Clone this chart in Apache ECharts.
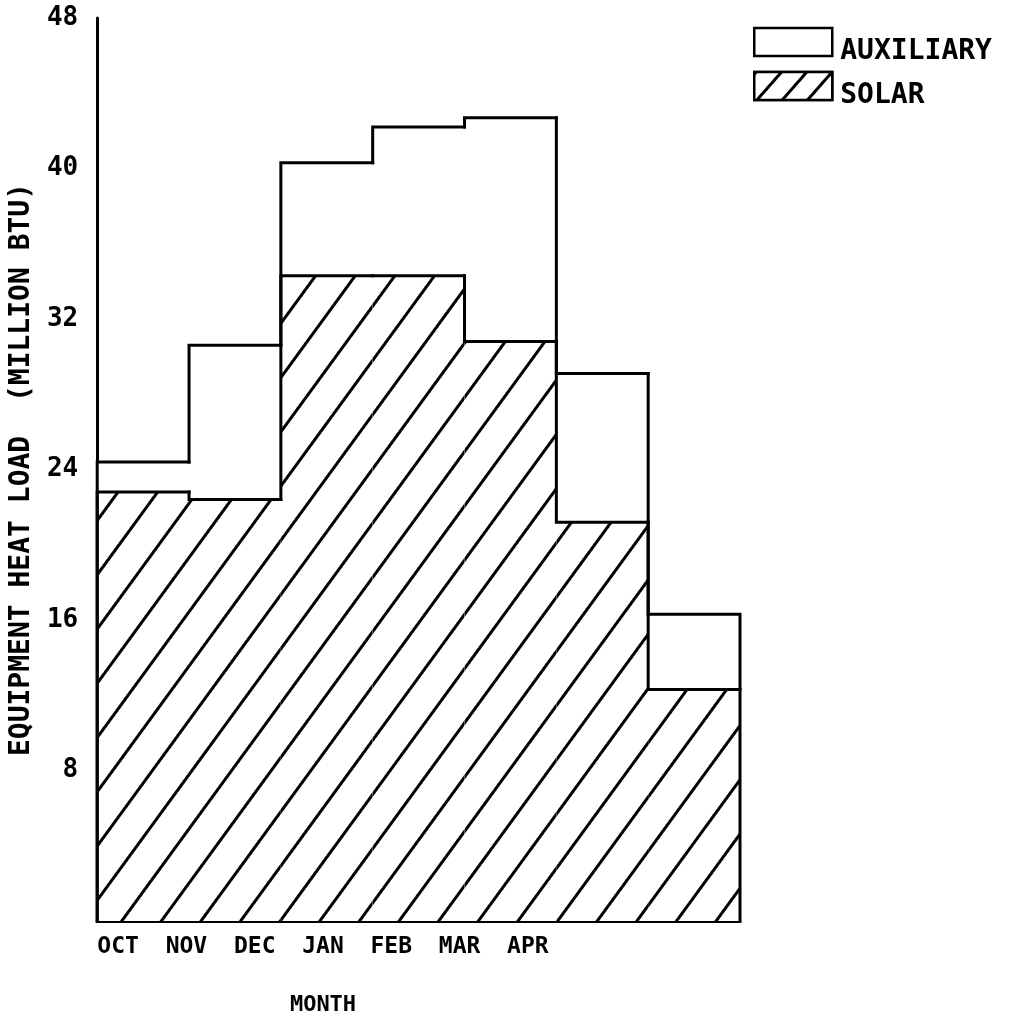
<!DOCTYPE html>
<html>
<head>
<meta charset="utf-8">
<script src="https://cdn.jsdelivr.net/npm/echarts@6/dist/echarts.min.js"></script>
<style>
  html, body { margin: 0; padding: 0; background: #fff; }
  #chart { width: 1010px; height: 1021px; }
</style>
</head>
<body>
<div id="chart"></div>
<script>
// Monthly equipment heat load, split into solar and auxiliary contributions (million BTU)
const months = ['OCT', 'NOV', 'DEC', 'JAN', 'FEB', 'MAR', 'APR'];
const solar = [22.8, 22.4, 34.3, 34.3, 30.8, 21.2, 12.3];
const auxiliary = [1.6, 8.2, 6.0, 7.9, 11.9, 7.9, 4.0];
const yTicks = [0, 8, 16, 24, 32, 40, 48];

// stacked height of each month (solar + auxiliary)
const total = solar.map((s, i) => s + auxiliary[i]);

const FONT = 'DejaVu Sans Mono';

// diagonal line hatching for the solar portion
const hatch = {
  symbol: 'rect',
  symbolSize: 1,
  color: '#000',
  backgroundColor: '#fff',
  dashArrayX: [1, 0],
  dashArrayY: [3, 29],
  rotation: -0.94
};

// tighter hatching for the small legend swatch
const legendHatch = {
  symbol: 'rect',
  symbolSize: 1,
  color: '#000',
  backgroundColor: '#fff',
  dashArrayX: [1, 0],
  dashArrayY: [3, 16],
  rotation: -0.85
};

// draws the stepped envelopes of the solar and total heights
function outline(params, api) {
  const i = params.dataIndex;
  const half = api.size([1, 0])[0] / 2;
  const xc = api.coord([i, 0])[0];
  const xl = xc - half, xr = xc + half;
  const y = v => api.coord([i, v])[1];
  const base = y(0);
  const prevT = i > 0 ? y(total[i - 1]) : base;
  const prevS = i > 0 ? y(solar[i - 1]) : base;
  const tot = [[xl, prevT], [xl, y(total[i])], [xr, y(total[i])]];
  if (i === months.length - 1) tot.push([xr, base]);
  const sol = [[xl, prevS], [xl, y(solar[i])], [xr, y(solar[i])]];
  const st = { stroke: '#000', lineWidth: 3, fill: null, lineJoin: 'miter', lineCap: 'square' };
  return {
    type: 'group',
    children: [
      { type: 'polyline', shape: { points: tot }, style: st },
      { type: 'polyline', shape: { points: sol }, style: st }
    ]
  };
}

const chart = echarts.init(document.getElementById('chart'));
chart.setOption({
  backgroundColor: '#fff',
  animation: false,
  legend: {
    orient: 'vertical',
    left: 748,
    top: 13,
    padding: 5,
    itemWidth: 78,
    itemHeight: 28,
    itemGap: -4,
    icon: 'rect',
    data: [
      { name: 'AUXILIARY' },
      { name: 'SOLAR', itemStyle: { decal: legendHatch } }
    ],
    formatter: name => '\n' + name,
    itemStyle: { borderColor: '#000', borderWidth: 2.5 },
    textStyle: {
      fontFamily: FONT, fontWeight: 'bold', fontSize: 28, color: '#000',
      lineHeight: 20, padding: [0, 0, 0, 3]
    }
  },
  grid: [
    { left: 97, right: 270, top: 18, bottom: 100 },
    { left: 84, width: 478, top: 18, bottom: 100 }
  ],
  xAxis: [
    {
      gridIndex: 0,
      type: 'category',
      data: months,
      axisLine: { lineStyle: { color: '#000', width: 3 } },
      axisTick: { show: false },
      axisLabel: { show: false },
      splitLine: { show: false }
    },
    {
      gridIndex: 1,
      type: 'category',
      data: months,
      axisLine: { show: false },
      axisTick: { show: false },
      splitLine: { show: false },
      axisLabel: {
        fontFamily: FONT, fontWeight: 'bold', fontSize: 23, color: '#000', margin: 23
      },
      name: 'MONTH',
      nameLocation: 'middle',
      nameGap: 81,
      nameTextStyle: { fontFamily: FONT, fontWeight: 'bold', fontSize: 22, color: '#000' }
    }
  ],
  yAxis: [
    {
      gridIndex: 0,
      type: 'value',
      min: yTicks[0],
      max: yTicks[yTicks.length - 1],
      interval: yTicks[1] - yTicks[0],
      axisLine: { show: true, lineStyle: { color: '#000', width: 3 } },
      axisTick: { show: false },
      splitLine: { show: false },
      axisLabel: {
        fontFamily: FONT, fontWeight: 'bold', fontSize: 26, color: '#000', margin: 19,
        formatter: v => (v === 0 ? '' : String(v))
      },
      name: 'EQUIPMENT HEAT LOAD  (MILLION BTU)',
      nameLocation: 'middle',
      nameGap: 60,
      nameTextStyle: { fontFamily: FONT, fontWeight: 'bold', fontSize: 28, color: '#000' }
    },
    {
      gridIndex: 1,
      type: 'value',
      min: yTicks[0],
      max: yTicks[yTicks.length - 1],
      show: false
    }
  ],
  series: [
    {
      name: 'SOLAR',
      type: 'bar',
      stack: 'load',
      xAxisIndex: 0,
      yAxisIndex: 0,
      barCategoryGap: '0%',
      data: solar,
      itemStyle: { color: '#fff', decal: hatch }
    },
    {
      name: 'AUXILIARY',
      type: 'bar',
      stack: 'load',
      xAxisIndex: 0,
      yAxisIndex: 0,
      barCategoryGap: '0%',
      data: auxiliary,
      itemStyle: { color: '#fff' }
    },
    {
      name: 'outline',
      type: 'custom',
      xAxisIndex: 0,
      yAxisIndex: 0,
      renderItem: outline,
      data: months.map((m, i) => [i, total[i]]),
      encode: { x: 0, y: 1 },
      clip: false,
      z: 5,
      silent: true
    }
  ]
});
</script>
</body>
</html>
